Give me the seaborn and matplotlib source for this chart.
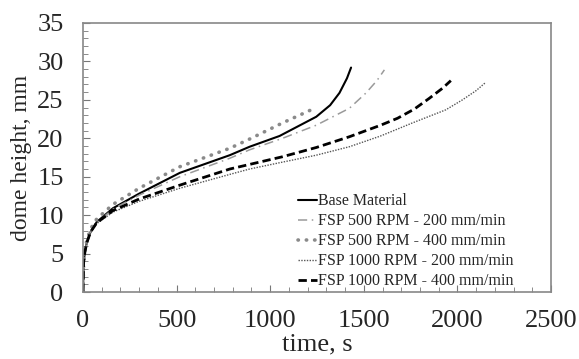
import matplotlib
matplotlib.use("Agg")
import matplotlib.pyplot as plt
from matplotlib.ticker import MultipleLocator
import pandas as pd
import seaborn as sns

# values
base_t = [0, 3, 10, 20, 40, 73, 160, 300, 517, 784, 890, 1050, 1246, 1320, 1370, 1410, 1432]
base_h = [0, 3.8, 5.2, 6.4, 7.8, 9.1, 10.9, 12.8, 15.5, 17.8, 18.9, 20.3, 22.8, 24.3, 25.9, 27.8, 29.2]

fsp500_200_t = [0, 3, 10, 20, 40, 73, 160, 300, 517, 784, 890, 1066, 1246, 1423, 1512, 1570, 1610]
fsp500_200_h = [0, 3.8, 5.2, 6.4, 7.8, 9.0, 10.8, 12.6, 15.0, 17.4, 18.5, 20.0, 21.7, 23.9, 25.9, 27.5, 28.9]

fsp500_400_t = [0, 3, 10, 20, 40, 73, 160, 300, 517, 784, 890, 1066, 1219]
fsp500_400_h = [0, 3.9, 5.4, 6.7, 8.2, 9.5, 11.4, 13.5, 16.3, 18.7, 19.9, 22.0, 23.7]

fsp1000_200_t = [0, 3, 10, 20, 40, 73, 160, 300, 517, 784, 890, 1066, 1246, 1423, 1590, 1760, 1938, 2027, 2100, 2148]
fsp1000_200_h = [0, 3.8, 5.2, 6.4, 7.7, 8.9, 10.4, 11.8, 13.5, 15.3, 16.0, 16.9, 17.8, 18.9, 20.3, 22.0, 23.7, 25.0, 26.2, 27.2]

fsp1000_400_t = [0, 3, 10, 20, 40, 73, 160, 300, 517, 784, 890, 1066, 1246, 1423, 1590, 1680, 1770, 1850, 1920, 1965]
fsp1000_400_h = [0, 3.8, 5.2, 6.4, 7.8, 9.0, 10.6, 12.1, 13.9, 16.0, 16.6, 17.6, 18.8, 20.2, 21.7, 22.6, 23.8, 25.2, 26.5, 27.5]

labels = ["Base Material", "FSP 500 RPM - 200 mm/min", "FSP 500 RPM - 400 mm/min",
          "FSP 1000 RPM - 200 mm/min", "FSP 1000 RPM - 400 mm/min"]

sns.set_style("ticks")
plt.rcParams["font.family"] = ["Liberation Serif", "DejaVu Serif"]

fig = plt.figure(figsize=(5.79, 3.59), dpi=100)
ax = fig.add_axes([0.1434, 0.1866, 0.8082, 0.7494])

series = [
    (base_t, base_h, dict(color="black", linestyle="-", linewidth=1.5)),
    (fsp500_200_t, fsp500_200_h, dict(color="#9a9a9a", linestyle=(0, (6, 3, 1, 3)), linewidth=1.1)),
    (fsp500_400_t, fsp500_400_h, dict(color="#8a8a8a", linestyle=(0, (0.1, 2.2)), linewidth=2.6,
                                       dash_capstyle="round")),
    (fsp1000_200_t, fsp1000_200_h, dict(color="#555555", linestyle=(0, (1, 1)), linewidth=1.0)),
    (fsp1000_400_t, fsp1000_400_h, dict(color="black", linestyle=(0, (3, 1.5)), linewidth=2.0)),
]
for (t, h, style), lab in zip(series, labels):
    df = pd.DataFrame({"time": t, "height": h})
    sns.lineplot(data=df, x="time", y="height", ax=ax, label=lab, sort=False, **style)

ax.set_xlim(0, 2500)
ax.set_ylim(0, 35)
ax.xaxis.set_major_locator(MultipleLocator(500))
ax.xaxis.set_minor_locator(MultipleLocator(100))
ax.yaxis.set_major_locator(MultipleLocator(5))
ax.yaxis.set_minor_locator(MultipleLocator(1))
ax.tick_params(which="both", direction="in", color="#777777", labelsize=19)
ax.tick_params(which="major", length=5)
ax.tick_params(which="minor", length=3.5)
ax.tick_params(axis="x", pad=13)
ax.tick_params(axis="y", pad=14)
for s in ax.spines.values():
    s.set_color("#888888")
    s.set_linewidth(1.2)

ax.set_xlabel("time, s", fontsize=19, labelpad=1)
ax.set_ylabel("dome height, mm", fontsize=17)
ax.yaxis.set_label_coords(-0.108, 0.5)

ax.legend(loc="upper left", bbox_to_anchor=(0.445, 0.39), frameon=False, fontsize=11.5,
          handlelength=1.2, handletextpad=0.1, labelspacing=0.25, borderaxespad=0)

fig.savefig("out.png", dpi=100)
